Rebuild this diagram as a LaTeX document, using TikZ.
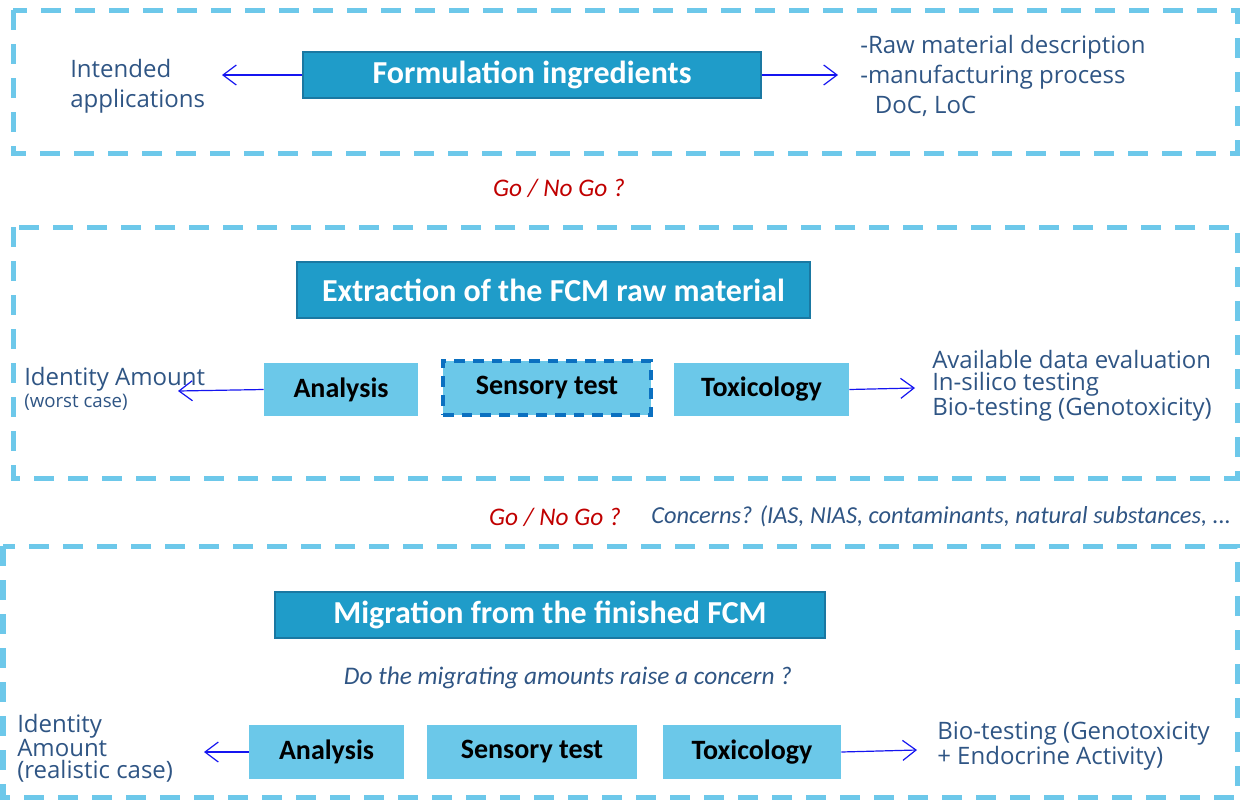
\documentclass[tikz,border=0pt]{standalone}
\usepackage{fontspec}
\setmainfont{Open Sans}
\newfontfamily\calfont{Carlito}
\usetikzlibrary{arrows.meta}
\definecolor{dashc}{HTML}{6DC8EA}
\definecolor{boxdark}{HTML}{1F9CC9}
\definecolor{boxedge}{HTML}{1A78A2}
\definecolor{boxlight}{HTML}{6BC8E9}
\definecolor{sensedge}{HTML}{0B70C0}
\definecolor{txtblue}{HTML}{2F5584}
\definecolor{gored}{HTML}{C00000}
\definecolor{arrblue}{HTML}{1515F0}
\tikzset{
  section/.style={draw=dashc, line width=3.75pt, dash pattern=on 15pt off 10.5pt},
  darkbox/.style={draw=boxedge, line width=1.5pt, fill=boxdark, text=white,
    font=\calfont\bfseries\fontsize{24}{28}\selectfont, inner sep=0pt},
  lightbox/.style={fill=boxlight, text=black,
    font=\calfont\bfseries\fontsize{21}{24}\selectfont, inner sep=0pt},
  sensbox/.style={lightbox, draw=sensedge, line width=3pt, dash pattern=on 8pt off 6pt},
  bodytxt/.style={text=txtblue, font=\fontsize{18}{22.5}\selectfont, align=left, inner sep=0pt},
  tighttxt/.style={text=txtblue, font=\fontsize{18}{16.5}\selectfont, align=left, inner sep=0pt},
  itxt/.style={text=txtblue, font=\calfont\itshape\fontsize{19}{22}\selectfont, inner sep=0pt},
  gotxt/.style={text=gored, font=\calfont\itshape\fontsize{19}{22}\selectfont, inner sep=0pt},
  conn/.style={draw=arrblue, line width=0.9pt, -{Straight Barb[length=10pt,width=15pt,line width=0.9pt]}}
}
\begin{document}
\begin{tikzpicture}[x=0.75pt,y=-0.75pt]
\useasboundingbox (0,0) rectangle (1243,800);
% sections
\draw[section] (13,10) rectangle (1237,153);
\draw[section] (13,227) rectangle (1237,478);
\draw[section] (3,546) rectangle (1237,797);

% section 1
\node[darkbox, minimum width=343.5pt, minimum height=34.5pt] (form) at (532,75) {Formulation ingredients};
\node[bodytxt, anchor=west] (intended) at (70,86) {Intended\\applications};
\coordinate (intendedtip) at (222,75);
\node[bodytxt, anchor=west] (rawmat) at (860,76) {-Raw material description\\-manufacturing process\\\hspace*{11pt}DoC, LoC};
\coordinate (rawtip) at (838,75);
\draw[conn] (form.west) -- (intendedtip);
\draw[conn] (form.east) -- (rawtip);

\node[gotxt] (go1) at (559,188) {Go / No Go ?};

% section 2
\node[darkbox, minimum width=384.75pt, minimum height=42pt] (extr) at (553.5,290) {Extraction of the FCM raw material};
\node[lightbox, minimum width=115.5pt, minimum height=39.75pt] (ana1) at (341,389.5) {Analysis};
\node[sensbox, minimum width=156pt, minimum height=40.5pt] (sens1) at (547,388) {Sensory test};
\node[lightbox, minimum width=131.25pt, minimum height=39.75pt] (tox1) at (761.5,389.5) {Toxicology};
\node[tighttxt, anchor=west] (ident1) at (24,389) {Identity Amount\\{\fontsize{14}{14}\selectfont(worst case)}};
\coordinate (ident1tip) at (178,391);
\node[tighttxt, anchor=west] (avail) at (932,386) {Available data evaluation\\In-silico testing\\Bio-testing (Genotoxicity)};
\coordinate (availtip) at (915,388);
\draw[conn] (ana1.west) -- (ident1tip);
\draw[conn] (tox1.east) -- (availtip);

\node[gotxt] (go2) at (555,517) {Go / No Go ?};
\node[itxt, anchor=west, font=\calfont\itshape\fontsize{18.3}{22}\selectfont] (concerns) at (651,516) {Concerns? (IAS, NIAS, contaminants, natural substances, ...};

% section 3
\node[darkbox, minimum width=412.5pt, minimum height=34.5pt] (migr) at (550,615) {Migration from the finished FCM};
\node[itxt] (doq) at (568,678) {Do the migrating amounts raise a concern ?};
\node[lightbox, minimum width=116.25pt, minimum height=40.5pt] (ana2) at (326.5,752) {Analysis};
\node[lightbox, minimum width=157.5pt, minimum height=40.5pt] (sens2) at (532,752) {Sensory test};
\node[lightbox, minimum width=133.5pt, minimum height=40.5pt] (tox2) at (752,752) {Toxicology};
\node[tighttxt, anchor=west] (ident2) at (17,748) {Identity\\Amount\\(realistic case)};
\coordinate (ident2tip) at (204,752);
\node[tighttxt, anchor=west] (bio) at (937,746) {Bio-testing (Genotoxicity\\+ Endocrine Activity)};
\coordinate (biotip) at (917,750);
\draw[conn] (ana2.west) -- (ident2tip);
\draw[conn] (tox2.east) -- (biotip);
\end{tikzpicture}
\end{document}
